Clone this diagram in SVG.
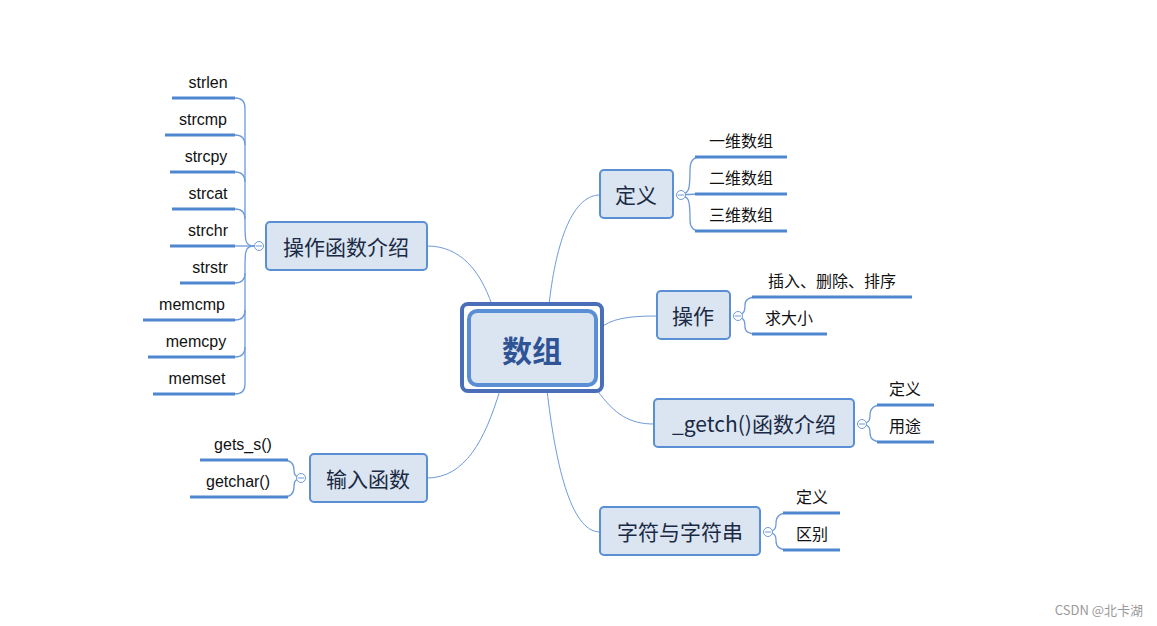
<svg xmlns="http://www.w3.org/2000/svg" width="1157" height="626" viewBox="0 0 1157 626">
<style>
.n{fill:#dbe5f1;stroke:#5b8fd5;stroke-width:2}
.t{font-family:"Noto Sans CJK SC","Liberation Sans",sans-serif;font-size:21px;fill:#1a2a44;text-anchor:middle;dominant-baseline:central}
.l{font-family:"Liberation Sans","Noto Sans CJK SC",sans-serif;font-size:16px;fill:#111;text-anchor:middle}
.u{stroke:#4f86d0;stroke-width:3;fill:none}
.c{stroke:#6f9ad8;stroke-width:1;fill:none}
.s{stroke:#6f9ad8;stroke-width:1.3;fill:none}
.o{fill:#fff;stroke:#6f9ad8;stroke-width:1}
</style>
<rect width="1157" height="626" fill="#fff"/>
<g id="connectors">
<path class="c" d="M492,305 C480,270 460,246 427,246"/>
<path class="c" d="M500,390 C485,440 465,478 427,478"/>
<path class="c" d="M549,305 C555,250 570,195 600,195"/>
<path class="c" d="M598,330 C610,318 630,316 657,316"/>
<path class="c" d="M597,390 C615,415 630,424 654,424"/>
<path class="c" d="M547,390 C555,460 570,532 600,532"/>
<g class="s">
<path d="M254,246 C245,246 245,240 245,225 L245,108 Q245,98 235,98"/>
<path d="M245,145 Q245,135 235,135"/><path d="M245,182 Q245,172 235,172"/><path d="M245,219 Q245,209 235,209"/>
<path d="M254,246 L235,246"/>
<path d="M254,246 C245,246 245,252 245,267 L245,384 Q245,394 235,394"/>
<path d="M245,273 Q245,283 235,283"/><path d="M245,310 Q245,320 235,320"/><path d="M245,347 Q245,357 235,357"/>
<path d="M676,195 C690,195 690,190 690,170 Q690,157 700,157"/><path d="M676,195 L700,194"/><path d="M676,195 C690,195 690,200 690,220 Q690,231 700,231"/>
<path d="M733,316 C745,316 745,310 745,305 Q745,297 757,297"/><path d="M733,316 C745,316 745,322 745,327 Q745,334 757,334"/>
<path d="M857,424 C870,424 870,420 870,415 Q870,405 882,405"/><path d="M857,424 C870,424 870,428 870,433 Q870,442 882,442"/>
<path d="M763,532 C776,532 776,528 776,523 Q776,513 788,513"/><path d="M763,532 C776,532 776,536 776,541 Q776,550 788,550"/>
<path d="M306,478 C294,478 294,474 294,470 Q294,460 283,460"/><path d="M306,478 C294,478 294,482 294,487 Q294,497 283,497"/>
</g>
<g class="u">
<path d="M172,98H235"/><path d="M165,135H235"/><path d="M170,172H235"/><path d="M172,209H235"/><path d="M170,246H235"/><path d="M180,283H235"/><path d="M143,320H235"/><path d="M148,357H235"/><path d="M153,394H235"/>
<path d="M695,157H787"/><path d="M695,194H787"/><path d="M695,231H787"/>
<path d="M752,297H912"/><path d="M752,334H827"/>
<path d="M877,405H934"/><path d="M877,442H934"/>
<path d="M783,513H840"/><path d="M783,550H840"/>
<path d="M200,460H288"/><path d="M190,497H288"/>
</g>
<circle class="o" cx="259" cy="246" r="4.5"/><circle class="o" cx="681" cy="195" r="4.5"/><circle class="o" cx="738" cy="316" r="4.5"/><circle class="o" cx="862" cy="424" r="4.5"/><circle class="o" cx="768" cy="532" r="4.5"/><circle class="o" cx="301" cy="478" r="4.5"/>
<g fill="none" stroke="#6f9ad8" stroke-width="1"><path d="M256,246h6M678,195h6M735,316h6M859,424h6M765,532h6M298,478h6"/></g>
</g>
<g id="center">
<rect x="462" y="304" width="140" height="87" rx="6" fill="#fff" stroke="#4a6fb8" stroke-width="4"/>
<rect x="469" y="311" width="127" height="74" rx="8" fill="#dbe5f1" stroke="#5a8fd6" stroke-width="4"/>
<text x="532" y="349" class="t" style="font-size:30px;font-weight:bold;fill:#2f5496">数组</text>
</g>
<g id="n1"><rect class="n" x="600" y="170" width="73" height="48" rx="4"/><text class="t" x="636" y="194">定义</text></g>
<g id="n2"><rect class="n" x="657" y="291" width="73" height="48" rx="4"/><text class="t" x="693" y="315">操作</text></g>
<g id="n3"><rect class="n" x="654" y="399" width="200" height="48" rx="4"/><text class="t" x="754" y="423">_getch()函数介绍</text></g>
<g id="n4"><rect class="n" x="600" y="507" width="160" height="48" rx="4"/><text class="t" x="680" y="531">字符与字符串</text></g>
<g id="n5"><rect class="n" x="266" y="222" width="161" height="48" rx="4"/><text class="t" x="346" y="246">操作函数介绍</text></g>
<g id="n6"><rect class="n" x="310" y="454" width="117" height="48" rx="4"/><text class="t" x="368" y="478">输入函数</text></g>
<g id="leaves">
<text class="l" x="208" y="88">strlen</text><text class="l" x="203" y="125">strcmp</text><text class="l" x="206" y="162">strcpy</text><text class="l" x="208" y="199">strcat</text><text class="l" x="208" y="236">strchr</text><text class="l" x="210" y="273">strstr</text><text class="l" x="192" y="310">memcmp</text><text class="l" x="196" y="347">memcpy</text><text class="l" x="197" y="384">memset</text>
<text class="l" x="741" y="147">一维数组</text><text class="l" x="741" y="184">二维数组</text><text class="l" x="741" y="221">三维数组</text>
<text class="l" x="832" y="287">插入、删除、排序</text><text class="l" x="789" y="324">求大小</text>
<text class="l" x="905" y="395">定义</text><text class="l" x="905" y="432">用途</text>
<text class="l" x="812" y="503">定义</text><text class="l" x="812" y="540">区别</text>
<text class="l" x="243" y="450">gets_s()</text><text class="l" x="238" y="487">getchar()</text>
</g>
<text x="1143" y="615" style="font-family:'Noto Sans CJK SC',sans-serif;font-size:13px;fill:#999;text-anchor:end">CSDN @北卡湖</text>
</svg>
